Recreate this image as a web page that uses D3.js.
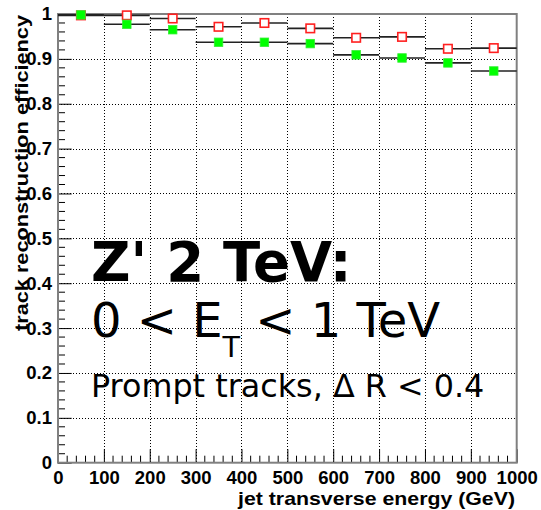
<!DOCTYPE html>
<html>
<head>
<meta charset="utf-8">
<script src="https://cdn.jsdelivr.net/npm/d3@7"></script>
<style>
  html, body { margin: 0; padding: 0; background: #fff; }
  svg { display: block; }
</style>
</head>
<body>
<script>
// ---- data ----
const binLow  = [0, 100, 200, 300, 400, 500, 600, 700, 800, 900];
const binHigh = [100, 200, 300, 400, 500, 600, 700, 800, 900, 1000];
const binCenters = [50, 150, 250, 350, 450, 550, 650, 750, 850, 950];
const effOpenRed    = [0.997, 0.997, 0.990, 0.9715, 0.980, 0.968, 0.947, 0.949, 0.9225, 0.924];
const effFilledGreen = [0.998, 0.977, 0.965, 0.937, 0.937, 0.934, 0.909, 0.902, 0.891, 0.873];
const xTicks = [0, 100, 200, 300, 400, 500, 600, 700, 800, 900, 1000];
const yTicks = [0, 0.1, 0.2, 0.3, 0.4, 0.5, 0.6, 0.7, 0.8, 0.9, 1];
const xTitle = "jet transverse energy (GeV)";
const yTitle = "track reconstruction efficiency";

const W = 541, H = 510;
const svg = d3.select("body").append("svg").attr("width", W).attr("height", H);
svg.append("rect").attr("width", W).attr("height", H).attr("fill", "#fff");

const x = d3.scaleLinear().domain([0, 1000]).range([58, 516.7]);
const y = d3.scaleLinear().domain([0, 1]).range([462.7, 14]);

// grid
const grid = svg.append("g").attr("stroke", "#000").attr("stroke-width", 1).attr("stroke-dasharray", "1,2");
grid.selectAll("line.v").data(xTicks.slice(1, -1)).join("line")
  .attr("x1", d => Math.round(x(d)) + 0.5).attr("x2", d => Math.round(x(d)) + 0.5)
  .attr("y1", y(1)).attr("y2", y(0));
grid.selectAll("line.h").data(yTicks.slice(1, -1)).join("line")
  .attr("y1", d => Math.round(y(d)) + 0.5).attr("y2", d => Math.round(y(d)) + 0.5)
  .attr("x1", x(0)).attr("x2", x(1000));

// minor ticks
const minorX = d3.range(0, 1001, 20).filter(v => v % 100 !== 0);
const minorY = d3.range(0, 51, 1).map(v => v / 50).filter((v, i) => i % 5 !== 0);
const axisFont = "'Liberation Sans', Arial, sans-serif";

const gx = svg.append("g").attr("transform", `translate(0,${y(0)})`)
  .call(d3.axisBottom(x).tickValues(xTicks).tickSize(-13.5).tickPadding(8).tickFormat(d3.format("d")));
gx.append("g").selectAll("line").data(minorX).join("line")
  .attr("x1", d => x(d)).attr("x2", d => x(d)).attr("y1", 0).attr("y2", -7).attr("stroke", "#000");

const gy = svg.append("g").attr("transform", `translate(${x(0)},0)`)
  .call(d3.axisLeft(y).tickValues(yTicks).tickSize(-13.7).tickPadding(6).tickFormat(d => d === 0 ? "0" : d === 1 ? "1" : d3.format(".1f")(d)));
gy.append("g").selectAll("line").data(minorY).join("line")
  .attr("y1", d => y(d)).attr("y2", d => y(d)).attr("x1", 0).attr("x2", 7).attr("stroke", "#000");

[gx, gy].forEach(g => {
  g.select(".domain").remove();
  g.selectAll(".tick line").attr("stroke", "#000");
  g.selectAll(".tick text").attr("font-family", axisFont).attr("font-weight", "bold")
    .attr("font-size", 18.5).attr("fill", "#000");
});

// frame
svg.append("rect").attr("x", x(0)).attr("y", y(1)).attr("width", x(1000) - x(0)).attr("height", y(0) - y(1))
  .attr("fill", "none").attr("stroke", "#808080").attr("stroke-width", 2);

// bin lines
const bins = binCenters.map((c, i) => ({ lo: binLow[i], hi: binHigh[i], c, r: effOpenRed[i], g: effFilledGreen[i] }));
const lines = svg.append("g").attr("stroke", "#222").attr("stroke-width", 1.6);
lines.selectAll("line.r").data(bins).join("line")
  .attr("x1", d => x(d.lo)).attr("x2", d => x(d.hi)).attr("y1", d => y(d.r)).attr("y2", d => y(d.r));
lines.selectAll("line.g").data(bins).join("line")
  .attr("x1", d => x(d.lo)).attr("x2", d => x(d.hi)).attr("y1", d => y(d.g)).attr("y2", d => y(d.g));

// markers
const S = 8.5;
svg.append("g").selectAll("rect").data(bins).join("rect")
  .attr("x", d => x(d.c) - S / 2).attr("y", d => y(d.r) - S / 2).attr("width", S).attr("height", S)
  .attr("fill", "#fff").attr("stroke", "#ff2020").attr("stroke-width", 1.6);
svg.append("g").selectAll("rect").data(bins).join("rect")
  .attr("x", d => x(d.c) - S / 2).attr("y", d => y(d.g) - S / 2).attr("width", S).attr("height", S)
  .attr("fill", "#00ff00").attr("stroke", "#33ee33").attr("stroke-width", 0.8);

// annotation text
const tf = "'DejaVu Sans', sans-serif";
svg.append("text").attr("x", 91).attr("y", 281).attr("font-family", tf).attr("font-weight", "bold")
  .attr("font-size", 54.5).text("Z' 2 TeV:");
const t2 = svg.append("text").attr("x", 91).attr("y", 337).attr("font-family", tf).attr("font-size", 48);
t2.append("tspan").text("0 < E");
t2.append("tspan").attr("dy", 20).attr("font-size", 28.5).text("T");
t2.append("tspan").attr("dy", -20).attr("font-size", 48).text("\u00a0< 1 TeV");
svg.append("text").attr("x", 91).attr("y", 397).attr("font-family", tf).attr("font-size", 31.8)
  .text("Prompt tracks, \u0394 R < 0.4");

// axis titles
svg.append("text").attr("x", 515).attr("y", 505).attr("text-anchor", "end")
  .attr("font-family", axisFont).attr("font-weight", "bold").attr("font-size", 18.5)
  .attr("textLength", 277).attr("lengthAdjust", "spacingAndGlyphs").text(xTitle);
svg.append("text").attr("transform", "translate(28,15) rotate(-90)").attr("text-anchor", "end")
  .attr("font-family", axisFont).attr("font-weight", "bold").attr("font-size", 19)
  .attr("textLength", 316).attr("lengthAdjust", "spacingAndGlyphs").text(yTitle);
</script>
</body>
</html>
